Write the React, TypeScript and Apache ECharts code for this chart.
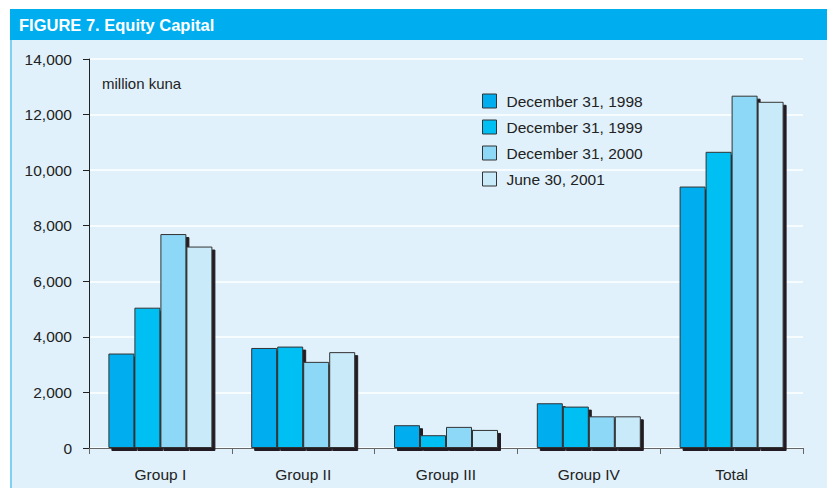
import React, { useEffect, useRef } from "react";
import * as echarts from "echarts";

const categories = ["Group I", "Group II", "Group III", "Group IV", "Total"];
const seriesNames = ["December 31, 1998", "December 31, 1999", "December 31, 2000", "June 30, 2001"];
const dec1998 = [3400, 3600, 820, 1610, 9410];
const dec1999 = [5050, 3650, 460, 1490, 10660];
const dec2000 = [7700, 3100, 760, 1140, 12680];
const jun2001 = [7250, 3450, 650, 1140, 12460];
const colors = ["#00adef", "#00bff3", "#8dd7f7", "#c8eaf9"];

const FONT = "'Liberation Sans', Arial, Helvetica, sans-serif";

export default function App() {
  const ref = useRef<HTMLDivElement>(null);
  useEffect(() => {
    if (!ref.current) return;
    const chart = echarts.init(ref.current, undefined, { renderer: "svg" });
    const data = [dec1998, dec1999, dec2000, jun2001];
    chart.setOption({
      animation: false,
      backgroundColor: "#ffffff",
      graphic: [
        { type: "rect", z: -10, shape: { x: 10, y: 40, width: 817, height: 448 }, style: { fill: "#e0f1fb" } },
        { type: "rect", z: -9, shape: { x: 10, y: 40, width: 2, height: 448 }, style: { fill: "#7fd0f5" } },
        { type: "rect", z: -9, shape: { x: 10, y: 9, width: 817, height: 31 }, style: { fill: "#00aeef" } },
        {
          type: "text", z: 10, x: 19, y: 25,
          style: { text: "FIGURE 7. Equity Capital", fill: "#ffffff", font: `bold 16.5px ${FONT}`, textVerticalAlign: "middle" },
        },
        {
          type: "text", z: 10, x: 102, y: 83,
          style: { text: "million kuna", fill: "#222222", font: `15px ${FONT}`, textVerticalAlign: "middle" },
        },
      ],
      legend: {
        orient: "vertical",
        left: 477,
        top: 88,
        itemWidth: 14,
        itemHeight: 14,
        itemGap: 10,
        icon: "rect",
        data: seriesNames,
        itemStyle: { borderColor: "#333333", borderWidth: 1, shadowColor: "rgba(0,0,0,0)", shadowOffsetX: 0, shadowOffsetY: 0 },
        textStyle: { fontFamily: FONT, fontSize: 15.5, color: "#222222", padding: [0, 0, 0, 5] },
      },
      grid: { left: 89, right: 24, top: 59, bottom: 40, containLabel: false },
      xAxis: {
        type: "category",
        data: categories,
        axisLine: { lineStyle: { color: "#666666", width: 1 } },
        axisTick: { show: true, length: 6, lineStyle: { color: "#666666" } },
        axisLabel: { fontFamily: FONT, fontSize: 15.5, color: "#222222", margin: 18 },
      },
      yAxis: {
        type: "value",
        min: 0,
        max: 14000,
        interval: 2000,
        axisLine: { show: true, lineStyle: { color: "#222222", width: 1 } },
        axisTick: { show: true, length: 6, lineStyle: { color: "#222222" } },
        axisLabel: {
          fontFamily: FONT, fontSize: 15.5, color: "#222222", margin: 17,
          formatter: (v: number) => v.toLocaleString("en-US"),
        },
        splitLine: { show: true, lineStyle: { color: "#ffffff", width: 1.5 } },
      },
      series: seriesNames.map((name, i) => ({
        name,
        type: "bar",
        data: data[i],
        barWidth: 26,
        barGap: "0%",
        itemStyle: {
          color: colors[i],
          borderColor: "#333333",
          borderWidth: 1,
          shadowColor: "#231f20",
          shadowBlur: 0,
          shadowOffsetX: 3,
          shadowOffsetY: 3,
        },
      })),
    });
    return () => chart.dispose();
  }, []);
  return <div ref={ref} style={{ position: "fixed", left: 0, top: 0, width: 827, height: 488 }} />;
}
